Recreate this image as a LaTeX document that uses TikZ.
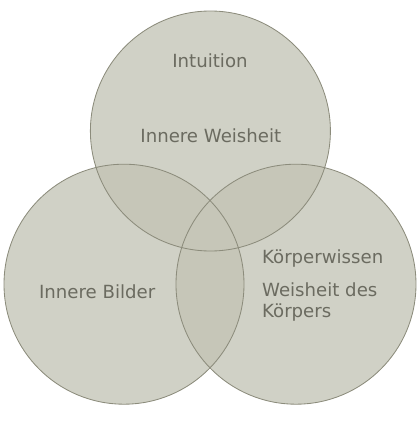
\documentclass[tikz,border=0pt]{standalone}
\usepackage{fontspec}
\setmainfont{DejaVu Sans}
\definecolor{ringfill}{HTML}{D0D1C6}
\definecolor{ringover}{HTML}{C6C6B8}
\definecolor{ringline}{HTML}{8C8C7C}
\definecolor{ringtext}{HTML}{6B6B60}
\begin{document}
\begin{tikzpicture}[
        ring/.style={circle, minimum size=6cm, inner sep=0pt},
        vennlabel/.style={text=ringtext, font=\fontsize{12.9}{15}\selectfont},
        stack/.style={vennlabel, align=left, anchor=west}
    ]
    \useasboundingbox (0,0) rectangle (10.5,10.525);

        % Kreise
        \node[ring, fill=ringfill] (top) at (5.26,7.25) {};
        \node[ring, fill=ringfill] (left) at (3.10,3.42) {};
        \node[ring, fill=ringfill] (right) at (7.40,3.42) {};

        % Schnittmengen
        \begin{scope}
            \clip (top.center) circle (3cm);
            \fill[ringover] (left.center) circle (3cm);
            \fill[ringover] (right.center) circle (3cm);
        \end{scope}
        \begin{scope}
            \clip (left.center) circle (3cm);
            \fill[ringover] (right.center) circle (3cm);
        \end{scope}

        % Umrisse
        \draw[ringline, semithick] (top.center) circle (3cm);
        \draw[ringline, semithick] (left.center) circle (3cm);
        \draw[ringline, semithick] (right.center) circle (3cm);

        % Texte
        \node[vennlabel] (intuition) at (5.25,9.0) {Intuition};
        \node[vennlabel] (weisheit) at (5.27,7.12) {Innere Weisheit};
        \node[vennlabel] (bilder) at (2.43,3.23) {Innere Bilder};
        \node[stack] (wissen) at (6.43,4.07) {Körperwissen};
        \node[stack] (koerper) at (6.43,2.97) {Weisheit des\\Körpers};

    \end{tikzpicture}
\end{document}
